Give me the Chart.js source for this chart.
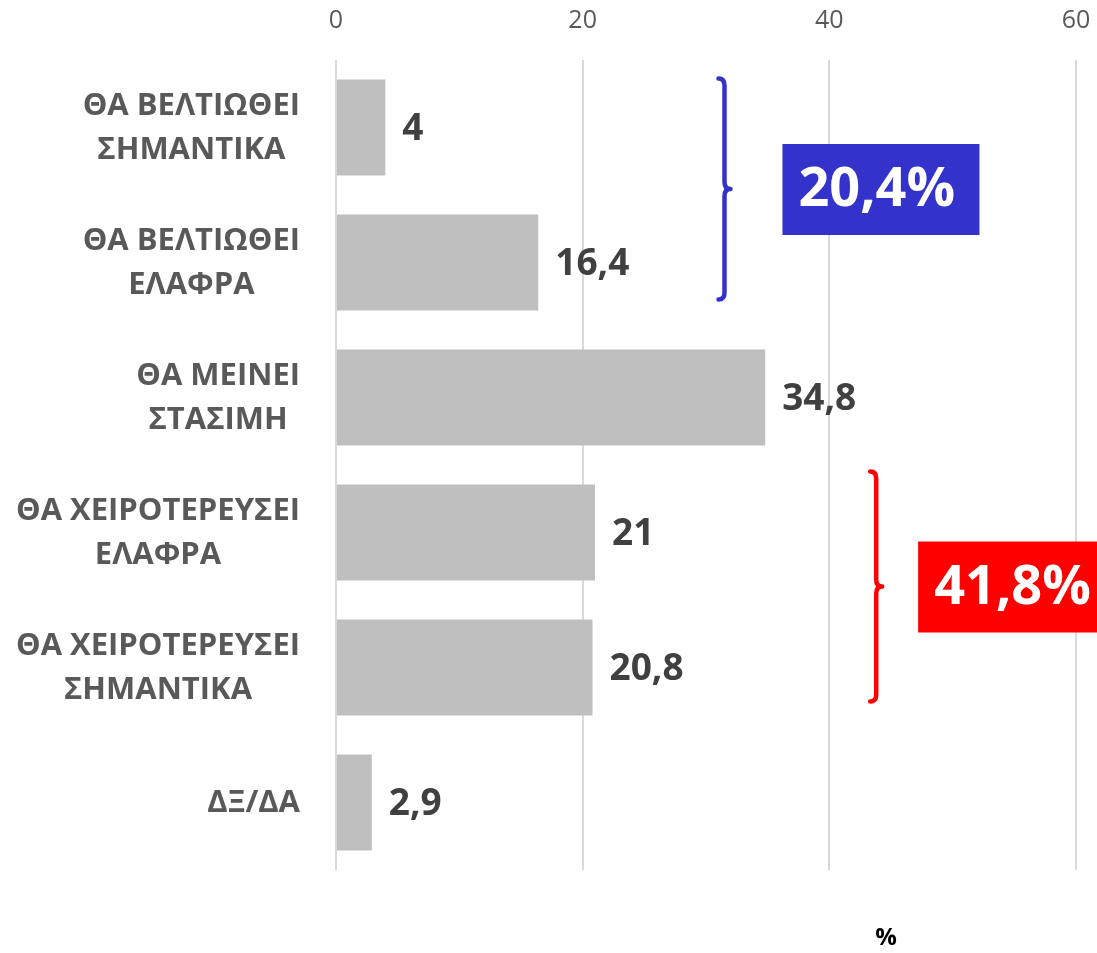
<!DOCTYPE html>
<html>
<head>
<meta charset="utf-8">
<script src="https://cdn.jsdelivr.net/npm/chart.js@4.4.0/dist/chart.umd.min.js"></script>
<style>
  html, body { margin: 0; padding: 0; background: #fff; }
  #wrap { width: 1097px; height: 953px; }
</style>
</head>
<body>
<div id="wrap"><canvas id="opinionChart"></canvas></div>
<script>
// categories (each one split into its lines) and values
var categories = [
    ['ΘΑ ΒΕΛΤΙΩΘΕΙ', 'ΣΗΜΑΝΤΙΚΑ'],
    ['ΘΑ ΒΕΛΤΙΩΘΕΙ', 'ΕΛΑΦΡΑ'],
    ['ΘΑ ΜΕΙΝΕΙ', 'ΣΤΑΣΙΜΗ'],
    ['ΘΑ ΧΕΙΡΟΤΕΡΕΥΣΕΙ', 'ΕΛΑΦΡΑ'],
    ['ΘΑ ΧΕΙΡΟΤΕΡΕΥΣΕΙ', 'ΣΗΜΑΝΤΙΚΑ'],
    ['ΔΞ/ΔΑ']
];
var values = [4, 16.4, 34.8, 21, 20.8, 2.9];
var xTicks = [0, 20, 40, 60];

// grouped totals shown beside the braces
var groupFrom = [0, 3];
var groupTo = [1, 4];
var groupLabels = ['20,4%', '41,8%'];
var groupColors = ['#3333CC', '#FF0000'];
var axisUnit = '%';

function fmt(v) {
    return String(v).replace('.', ',');
}

var FONT = "'Open Sans', 'DejaVu Sans', sans-serif";

var labelsPlugin = {
    id: 'customLabels',
    afterDatasetsDraw: function(chart) {
        var c = chart.ctx;
        var ys = chart.scales.y;
        var xs = chart.scales.x;
        var area = chart.chartArea;
        c.save();

        // category labels, each centred on itself, right edge at 300
        c.font = 'bold 31px ' + FONT;
        c.fillStyle = '#595959';
        c.textAlign = 'center';
        c.textBaseline = 'middle';
        categories.forEach(function(lines, i) {
            var y = ys.getPixelForValue(i) + 1;
            var maxW = 0;
            lines.forEach(function(l) { maxW = Math.max(maxW, c.measureText(l).width); });
            var cx = area.left - 36 - maxW / 2;
            var lh = 44;
            var y0 = y - (lines.length - 1) * lh / 2;
            lines.forEach(function(l, k) { c.fillText(l, cx, y0 + k * lh); });
        });

        // value labels
        c.font = 'bold 37px ' + FONT;
        c.fillStyle = '#404040';
        c.textAlign = 'left';
        var meta = chart.getDatasetMeta(0);
        meta.data.forEach(function(bar, i) {
            c.fillText(fmt(values[i]), bar.x + 17, bar.y + 2);
        });

        // braces and boxes
        var half = meta.data[0].height / 2;
        var braceX = [xs.getPixelForValue(31.5), xs.getPixelForValue(43.8)];
        var boxX = [xs.getPixelForValue(36.2), xs.getPixelForValue(47.2)];
        var boxW = [197, 200];
        var topOff = [-1, -13];
        var botOff = [-11, -14];
        groupLabels.forEach(function(txt, g) {
            var top = ys.getPixelForValue(groupFrom[g]) - half + topOff[g];
            var bot = ys.getPixelForValue(groupTo[g]) + half + botOff[g];
            var mid = (top + bot) / 2;
            var x = braceX[g];
            c.strokeStyle = groupColors[g];
            c.lineWidth = 4.5;
            c.lineCap = 'round';
            c.lineJoin = 'round';
            c.beginPath();
            c.moveTo(x - 6, top);
            c.quadraticCurveTo(x, top, x, top + 7);
            c.lineTo(x, mid - 7);
            c.quadraticCurveTo(x, mid, x + 6, mid);
            c.quadraticCurveTo(x, mid, x, mid + 7);
            c.lineTo(x, bot - 7);
            c.quadraticCurveTo(x, bot, x - 6, bot);
            c.stroke();

            c.fillStyle = groupColors[g];
            c.fillRect(boxX[g], mid - 45, boxW[g], 91);
            c.fillStyle = '#ffffff';
            c.font = 'bold 54px ' + FONT;
            c.textAlign = 'left';
            c.fillText(txt, boxX[g] + 16, mid + 2);
        });

        // unit label under the plot
        c.font = 'bold 24px ' + FONT;
        c.fillStyle = '#000000';
        c.textAlign = 'center';
        c.fillText(axisUnit, 886, 938);
        c.restore();
    }
};

var ctx = document.getElementById('opinionChart').getContext('2d');
var chart = new Chart(ctx, {
    type: 'bar',
    data: {
        labels: categories,
        datasets: [{
            data: values,
            backgroundColor: '#BFBFBF',
            barPercentage: 0.71,
            categoryPercentage: 1
        }]
    },
    options: {
        indexAxis: 'y',
        responsive: true,
        maintainAspectRatio: false,
        animation: false,
        layout: { padding: { left: 336, right: 21, top: 0, bottom: 83 } },
        plugins: {
            legend: { display: false },
            tooltip: { enabled: false }
        },
        scales: {
            x: {
                position: 'top',
                min: 0,
                max: 60,
                afterFit: function(s) {
                    s.height = 60;
                    s.paddingLeft = 0;
                    s.paddingRight = 0;
                },
                afterBuildTicks: function(s) {
                    s.ticks = xTicks.map(function(v) { return { value: v }; });
                },
                ticks: {
                    padding: 24,
                    color: '#595959',
                    font: { family: FONT, size: 25 }
                },
                grid: { color: '#D9D9D9', lineWidth: 2, drawTicks: false },
                border: { display: false }
            },
            y: {
                display: false
            }
        }
    },
    plugins: [labelsPlugin]
});
</script>
</body>
</html>
